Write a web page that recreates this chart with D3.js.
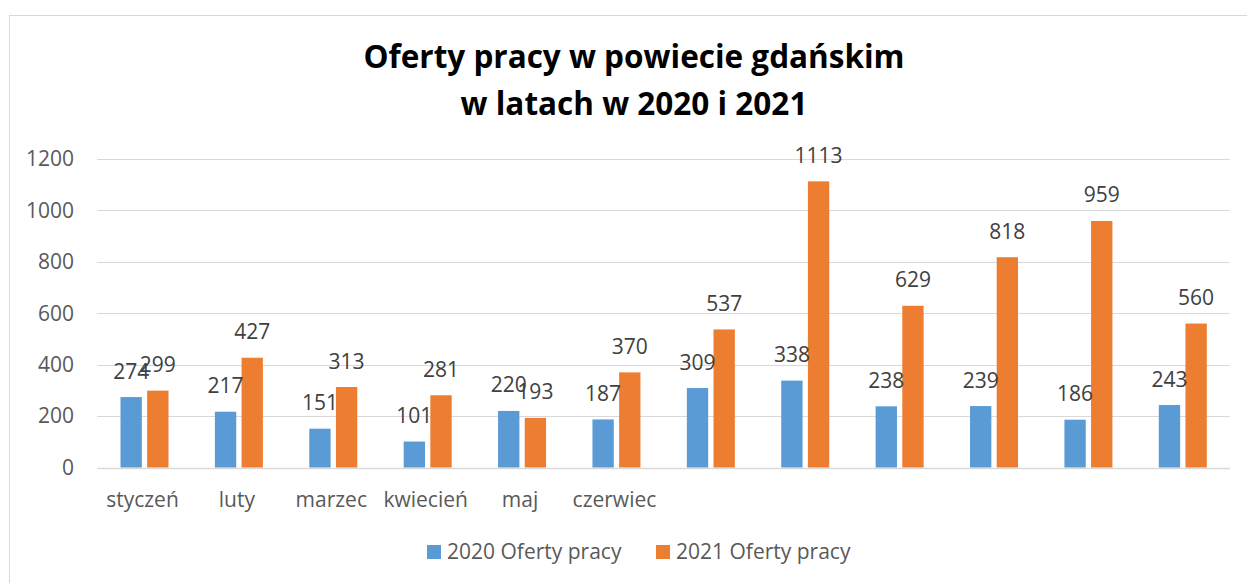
<!DOCTYPE html>
<html>
<head>
<meta charset="utf-8">
<script src="https://cdn.jsdelivr.net/npm/d3@7"></script>
<style>
  html, body { margin: 0; padding: 0; background: #fff; }
  svg { display: block; }
  text { font-family: "Open Sans", "Noto Sans", sans-serif; }
</style>
</head>
<body>
<svg id="chart" width="1247" height="583"></svg>
<script>
const months = ["styczeń", "luty", "marzec", "kwiecień", "maj", "czerwiec", "", "", "", "", "", ""];
const series = ["2020 Oferty pracy", "2021 Oferty pracy"];
const values2020 = [274, 217, 151, 101, 220, 187, 309, 338, 238, 239, 186, 243];
const values2021 = [299, 427, 313, 281, 193, 370, 537, 1113, 629, 818, 959, 560];
const yTicks = [0, 200, 400, 600, 800, 1000, 1200];
const titleLines = ["Oferty pracy w powiecie gdańskim", "w latach w 2020 i 2021"];
const colors = ["#5B9BD5", "#ED7D31"];

const svg = d3.select("#chart");
const W = 1247, H = 583;

// chart border
svg.append("rect")
  .attr("x", 9.5).attr("y", 15.5)
  .attr("width", W + 20).attr("height", H + 20)
  .attr("fill", "#fff").attr("stroke", "#d9d9d9").attr("stroke-width", 1);

// title
const title = svg.append("text")
  .attr("text-anchor", "middle")
  .attr("font-weight", "bold")
  .attr("font-size", 31.5)
  .attr("fill", "#000");
title.append("tspan").attr("x", 634).attr("y", 68).text(titleLines[0]);
title.append("tspan").attr("x", 634).attr("y", 115).text(titleLines[1]);

const plot = { left: 97.3, right: 1230, top: 159, bottom: 467.5 };

const idx = d3.range(months.length);
const x0 = d3.scaleBand().domain(idx).range([plot.left, plot.right]).padding(0);
const bw = x0.bandwidth();
const x1 = d3.scaleBand().domain([0, 1]).range([bw / 2 - 24, bw / 2 + 24]).paddingInner(0.2).paddingOuter(0);
const y = d3.scaleLinear().domain([0, 1200]).range([plot.bottom, plot.top]);

// gridlines
svg.append("g")
  .selectAll("line")
  .data(yTicks)
  .join("line")
  .attr("x1", plot.left).attr("x2", plot.right)
  .attr("y1", d => Math.round(y(d)) + 0.5).attr("y2", d => Math.round(y(d)) + 0.5)
  .attr("stroke", "#d9d9d9").attr("stroke-width", d => d === 0 ? 1.5 : 1.2);

// y tick labels
svg.append("g")
  .selectAll("text")
  .data(yTicks)
  .join("text")
  .attr("x", 74)
  .attr("y", d => y(d))
  .attr("dy", "0.35em")
  .attr("text-anchor", "end")
  .attr("font-size", 21)
  .attr("fill", "#595959")
  .text(d => d);

// bars
const data = idx.map(i => [values2020[i], values2021[i]]);
const groups = svg.append("g")
  .selectAll("g")
  .data(data)
  .join("g")
  .attr("transform", (d, i) => `translate(${x0(i)},0)`);

groups.selectAll("rect")
  .data(d => d.map((v, s) => ({ v, s })))
  .join("rect")
  .attr("x", d => x1(d.s))
  .attr("width", x1.bandwidth())
  .attr("y", d => y(d.v))
  .attr("height", d => y(0) - y(d.v))
  .attr("fill", d => colors[d.s]);

// data labels
groups.selectAll("text")
  .data(d => d.map((v, s) => ({ v, s })))
  .join("text")
  .attr("x", d => x1(d.s) + x1.bandwidth() / 2)
  .attr("y", d => y(d.v) - 18.5)
  .attr("text-anchor", "middle")
  .attr("font-size", 21)
  .attr("fill", "#404040")
  .text(d => d.v);

// category labels
svg.append("g")
  .selectAll("text")
  .data(idx)
  .join("text")
  .attr("x", i => x0(i) + bw / 2 - 2)
  .attr("y", 507)
  .attr("text-anchor", "middle")
  .attr("font-size", 21)
  .attr("fill", "#595959")
  .text(i => months[i]);

// legend
const legendX = [427, 656];
const legend = svg.append("g")
  .selectAll("g")
  .data(series)
  .join("g")
  .attr("transform", (d, i) => `translate(${legendX[i]},0)`);
legend.append("rect")
  .attr("x", 0).attr("y", 545).attr("width", 14).attr("height", 14)
  .attr("fill", (d, i) => colors[i]);
legend.append("text")
  .attr("x", 20).attr("y", 559)
  .attr("font-size", 21)
  .attr("fill", "#595959")
  .text(d => d);
</script>
</body>
</html>
